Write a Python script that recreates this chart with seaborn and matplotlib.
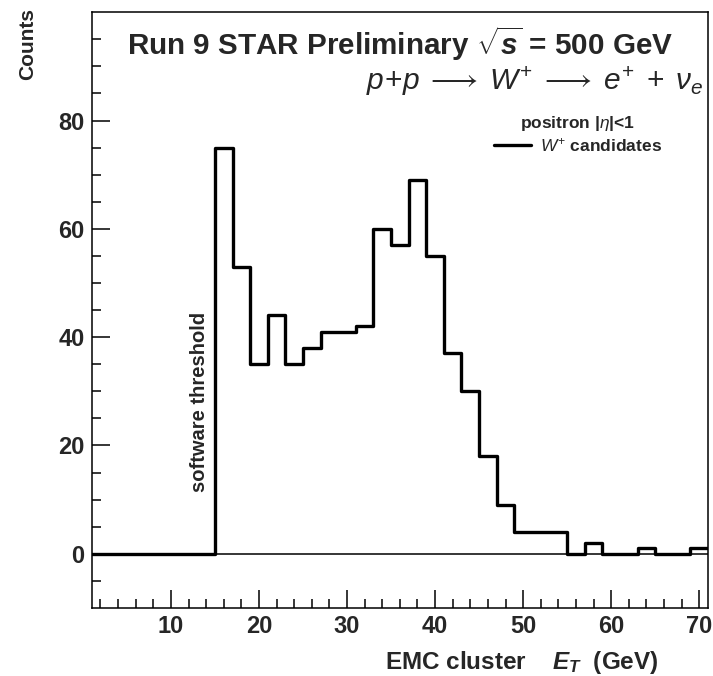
import numpy as np
import pandas as pd
import matplotlib
matplotlib.use("Agg")
import matplotlib.pyplot as plt
from matplotlib.lines import Line2D
import seaborn as sns

# ---- data ----
bin_edges = list(range(1, 72, 2))  # 1,3,...,71  (2 GeV bins)
counts = [0, 0, 0, 0, 0, 0, 0,          # 1-15
          75, 53, 35, 44, 35, 38, 41, 41, 42,   # 15-33
          60, 57, 69, 55, 37, 30, 18, 9,        # 33-49
          4, 4, 4, 0, 2, 0, 0, 1, 0, 0, 1]      # 49-71
x_ticks = [10, 20, 30, 40, 50, 60, 70]
y_ticks = [0, 20, 40, 60, 80]

centers = [(a + b) / 2 for a, b in zip(bin_edges[:-1], bin_edges[1:])]
df = pd.DataFrame({"ET": centers, "counts": counts})

sns.set_theme(style="white")
plt.rcParams["font.family"] = ["Liberation Sans", "DejaVu Sans"]
plt.rcParams["mathtext.fontset"] = "custom"
plt.rcParams["mathtext.rm"] = "Liberation Sans"
plt.rcParams["mathtext.it"] = "Liberation Sans:italic"
plt.rcParams["mathtext.bf"] = "Liberation Sans:bold"
plt.rcParams["mathtext.bfit"] = "Liberation Sans:italic:bold"

fig = plt.figure(figsize=(7.13, 6.76), dpi=100)
ax = fig.add_axes([0.1286, 0.1006, 0.8644, 0.8814])

ax.axhline(0, color="black", lw=1.1, zorder=1)
sns.histplot(data=df, x="ET", weights="counts", bins=bin_edges,
             element="step", fill=False, color="black", linewidth=2.4,
             ax=ax, zorder=3)

ax.set_xlim(1, 71)
ax.set_ylim(-10, 100)
ax.set_xticks(x_ticks)
ax.set_yticks(y_ticks)
ax.set_xticks(np.arange(2, 71, 2), minor=True)
ax.set_yticks(np.arange(-5, 100, 5), minor=True)
ax.tick_params(axis="both", which="major", direction="in", length=13, width=1.1,
               labelsize=17, color="black", pad=5)
ax.tick_params(axis="both", which="minor", direction="in", length=6.5, width=1.1,
               color="black")
ax.tick_params(axis="x", which="both", bottom=True, top=False)
ax.tick_params(axis="y", which="both", left=True, right=False)
for lab in ax.get_xticklabels() + ax.get_yticklabels():
    lab.set_fontweight("bold")
for sp in ax.spines.values():
    sp.set_color("black")
    sp.set_linewidth(1.1)

ax.set_xlabel("")
ax.set_ylabel("")
fig.text(0.923, 0.010, r"EMC cluster    $\mathbfit{E}_{\mathbfit{T}}$  (GeV)",
         ha="right", va="baseline", fontsize=17.5, fontweight="bold")
fig.text(0.039, 0.988, "Counts", rotation=90, ha="center", va="top",
         fontsize=15, fontweight="bold")

ax.text(0.057, 0.947, r"Run 9 STAR Preliminary $\sqrt{\mathbfit{s}}$ = 500 GeV",
        transform=ax.transAxes, ha="left", va="center", fontsize=21.3,
        fontweight="bold")
ax.text(0.993, 0.884,
        r"$p\!+\!p\;\longrightarrow\;W^{+}\;\longrightarrow\;e^{+}\;+\;\nu_{e}$",
        transform=ax.transAxes, ha="right", va="center", fontsize=21.5)
ax.text(13.3, 28, "software threshold", rotation=90, ha="center",
        va="center", fontsize=14.5, fontweight="bold")

handles = [Line2D([0], [0], color="black", lw=2.4)]
leg = ax.legend(handles, [r"$W^{+}$ candidates"], title=r"positron |$\eta$|<1",
                loc="center", bbox_to_anchor=(0.789, 0.795), frameon=False,
                prop={"weight": "bold", "size": 12.5}, handlelength=2.1,
                handletextpad=0.5, borderpad=0.1, labelspacing=0.2)
leg.get_title().set_fontweight("bold")
leg.get_title().set_fontsize(12.5)

fig.savefig("out.png", dpi=100)
